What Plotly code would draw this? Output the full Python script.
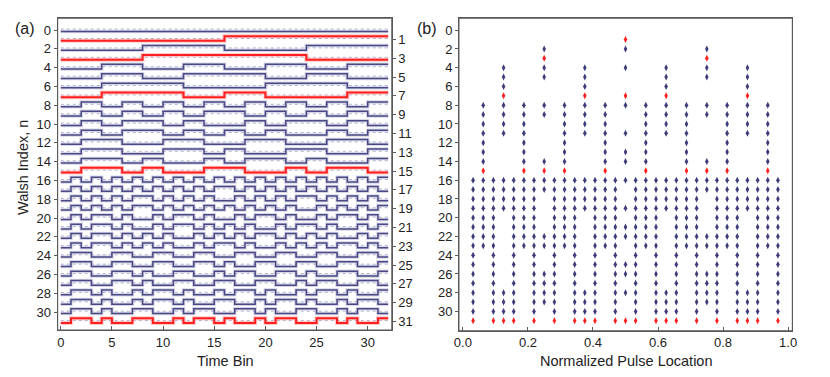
import plotly.graph_objects as go

"""
#  Data: Walsh functions (Paley order), 32 time bins, written in groups of 4 bins
"""

walsh_rows = [
    "++++ ++++ ++++ ++++ ++++ ++++ ++++ ++++",  # 0
    "++++ ++++ ++++ ++++ ---- ---- ---- ----",  # 1
    "++++ ++++ ---- ---- ++++ ++++ ---- ----",  # 2
    "++++ ++++ ---- ---- ---- ---- ++++ ++++",  # 3
    "++++ ---- ++++ ---- ++++ ---- ++++ ----",  # 4
    "++++ ---- ++++ ---- ---- ++++ ---- ++++",  # 5
    "++++ ---- ---- ++++ ++++ ---- ---- ++++",  # 6
    "++++ ---- ---- ++++ ---- ++++ ++++ ----",  # 7
    "++-- ++-- ++-- ++-- ++-- ++-- ++-- ++--",  # 8
    "++-- ++-- ++-- ++-- --++ --++ --++ --++",  # 9
    "++-- ++-- --++ --++ ++-- ++-- --++ --++",  # 10
    "++-- ++-- --++ --++ --++ --++ ++-- ++--",  # 11
    "++-- --++ ++-- --++ ++-- --++ ++-- --++",  # 12
    "++-- --++ ++-- --++ --++ ++-- --++ ++--",  # 13
    "++-- --++ --++ ++-- ++-- --++ --++ ++--",  # 14
    "++-- --++ --++ ++-- --++ ++-- ++-- --++",  # 15
    "+-+- +-+- +-+- +-+- +-+- +-+- +-+- +-+-",  # 16
    "+-+- +-+- +-+- +-+- -+-+ -+-+ -+-+ -+-+",  # 17
    "+-+- +-+- -+-+ -+-+ +-+- +-+- -+-+ -+-+",  # 18
    "+-+- +-+- -+-+ -+-+ -+-+ -+-+ +-+- +-+-",  # 19
    "+-+- -+-+ +-+- -+-+ +-+- -+-+ +-+- -+-+",  # 20
    "+-+- -+-+ +-+- -+-+ -+-+ +-+- -+-+ +-+-",  # 21
    "+-+- -+-+ -+-+ +-+- +-+- -+-+ -+-+ +-+-",  # 22
    "+-+- -+-+ -+-+ +-+- -+-+ +-+- +-+- -+-+",  # 23
    "+--+ +--+ +--+ +--+ +--+ +--+ +--+ +--+",  # 24
    "+--+ +--+ +--+ +--+ -++- -++- -++- -++-",  # 25
    "+--+ +--+ -++- -++- +--+ +--+ -++- -++-",  # 26
    "+--+ +--+ -++- -++- -++- -++- +--+ +--+",  # 27
    "+--+ -++- +--+ -++- +--+ -++- +--+ -++-",  # 28
    "+--+ -++- +--+ -++- -++- +--+ -++- +--+",  # 29
    "+--+ -++- -++- +--+ +--+ -++- -++- +--+",  # 30
    "+--+ -++- -++- +--+ -++- +--+ +--+ -++-",  # 31
]
red_rows = [1, 3, 7, 15, 31]
n_bins = 32

time_ticks = [0, 5, 10, 15, 20, 25, 30]
pulse_ticks = [0.0, 0.2, 0.4, 0.6, 0.8, 1.0]
even_ticks = list(range(0, 31, 2))
odd_ticks = list(range(1, 32, 2))

blue = '#4a4984'
blue_halo = 'rgba(120,118,180,0.3)'
red = '#ff1f1f'
red_halo = 'rgba(255,100,100,0.35)'
frame = '#5a5a5a'
font = dict(family='Liberation Sans, Arial, sans-serif', size=13, color='#222')

hi, lo, mid = 0.15, -0.35, -0.1   # row offsets for +1 / -1 / dotted guide


def step_xy(rows):
    xs, ys = [], []
    for n in rows:
        w = walsh_rows[n].replace(' ', '')
        for k, c in enumerate(w):
            y = n + (hi if c == '+' else lo)
            xs += [k, k + 1]
            ys += [y, y]
        xs.append(None)
        ys.append(None)
    return xs, ys


def pulses(rows):
    xs, ys = [], []
    for n in rows:
        w = walsh_rows[n].replace(' ', '')
        for k in range(1, len(w)):
            if w[k] != w[k - 1]:
                xs.append(k / n_bins)
                ys.append(n)
    return xs, ys


blue_rows = [n for n in range(len(walsh_rows)) if n not in red_rows]

fig = go.Figure()

# dotted guides
gx, gy = [], []
for n in range(len(walsh_rows)):
    gx += [0, n_bins, None]
    gy += [n + mid, n + mid, None]
fig.add_trace(go.Scatter(x=gx, y=gy, mode='lines', hoverinfo='skip',
                         line=dict(color='rgba(150,150,190,0.7)', width=1, dash='dot')))

bx, by = step_xy(blue_rows)
rx, ry = step_xy(red_rows)
fig.add_trace(go.Scatter(x=bx, y=by, mode='lines', line=dict(color=blue_halo, width=3.5)))
fig.add_trace(go.Scatter(x=bx, y=by, mode='lines', line=dict(color=blue, width=1.5)))
fig.add_trace(go.Scatter(x=rx, y=ry, mode='lines', line=dict(color=red_halo, width=4)))
fig.add_trace(go.Scatter(x=rx, y=ry, mode='lines', line=dict(color=red, width=2)))

# invisible trace to keep the right-hand odd axis alive
fig.add_trace(go.Scatter(x=[0], y=[0], yaxis='y2', mode='markers', marker=dict(opacity=0), hoverinfo='skip'))

# (b) pulse locations
px_b, py_b = pulses(blue_rows)
px_r, py_r = pulses(red_rows)
fig.add_trace(go.Scatter(x=px_b, y=py_b, xaxis='x2', yaxis='y3', mode='markers',
                         marker=dict(symbol='diamond-tall', size=5, color='#3d3b7a', line=dict(width=0))))
fig.add_trace(go.Scatter(x=px_r, y=py_r, xaxis='x2', yaxis='y3', mode='markers',
                         marker=dict(symbol='diamond-tall', size=5, color=red, line=dict(width=0))))

axis_common = dict(showgrid=False, zeroline=False, showline=True, linecolor=frame, linewidth=1,
                   tickcolor=frame, tickfont=font, automargin=False)

fig.update_layout(
    template='none',
    width=830, height=377,
    margin=dict(l=0, r=0, t=0, b=0, autoexpand=False),
    paper_bgcolor='white', plot_bgcolor='white',
    showlegend=False, font=font,
    xaxis=dict(axis_common, domain=[0.0695, 0.472], anchor='y', range=[-0.3, 32.35],
               tickvals=time_ticks, ticks='inside', ticklen=4, mirror=True),
    yaxis=dict(axis_common, domain=[0.1247, 0.9515], anchor='x', range=[31.9, -1.25],
               tickvals=even_ticks, ticks='outside', ticklen=3),
    yaxis2=dict(axis_common, overlaying='y', side='right', anchor='x', range=[31.9, -1.25],
                tickvals=odd_ticks, ticks='outside', ticklen=3),
    xaxis2=dict(axis_common, domain=[0.553, 0.9546], anchor='y3', range=[-0.012, 1.013],
                tickvals=pulse_ticks, tickformat='.1f', ticks='inside', ticklen=4, mirror=True),
    yaxis3=dict(axis_common, domain=[0.1228, 0.9515], anchor='x2', range=[32.05, -1.27],
                tickvals=even_ticks, ticks='outside', ticklen=3, mirror=True),
)

# panel frames
for xr, yr in [('x domain', 'y domain'), ('x2 domain', 'y3 domain')]:
    fig.add_shape(type='rect', xref=xr, yref=yr, x0=0, x1=1, y0=0, y1=1,
                  line=dict(color=frame, width=1), layer='above')

title_font = dict(family='Liberation Sans, Arial, sans-serif', size=14.5, color='#222')
labels = [
    ('Time Bin', 225, 361, 0, title_font),
    ('Normalized Pulse Location', 626, 361, 0, title_font),
    ('Walsh Index, n', 23, 168, -90, title_font),
    ('(a)', 24.5, 28, 0, dict(title_font, size=16)),
    ('(b)', 427.5, 28, 0, dict(title_font, size=16)),
]
for text, px, py, ang, f in labels:
    fig.add_annotation(text=text, x=px / 830, y=1 - py / 377, xref='paper', yref='paper',
                       xanchor='center', yanchor='middle', showarrow=False, textangle=ang, font=f)

fig.write_html("out.html", config={'displayModeBar': False},
               post_script="document.body.style.margin='0px';")
